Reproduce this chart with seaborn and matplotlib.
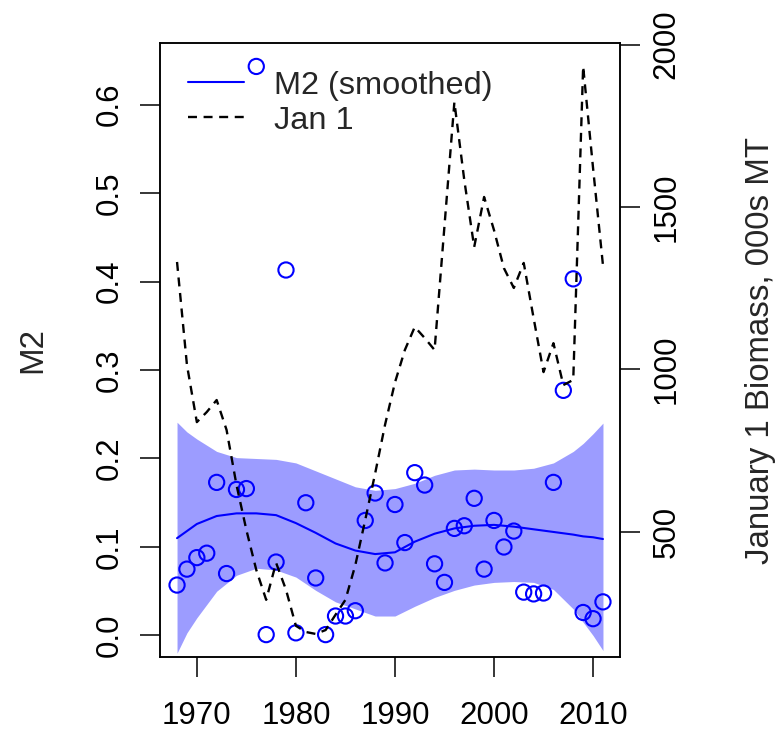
import numpy as np
import pandas as pd
import matplotlib
matplotlib.use("Agg")
import matplotlib.pyplot as plt
from matplotlib.lines import Line2D
import seaborn as sns

# ---------------- data ----------------
years = list(range(1968, 2012))
m2 = [0.057, 0.075, 0.088, 0.093, 0.173, 0.070, 0.165, 0.166, 0.643, 0.001,
      0.083, 0.413, 0.003, 0.150, 0.065, 0.001, 0.022, 0.022, 0.028, 0.130,
      0.161, 0.082, 0.148, 0.105, 0.184, 0.170, 0.081, 0.060, 0.121, 0.124,
      0.155, 0.075, 0.130, 0.100, 0.118, 0.049, 0.047, 0.048, 0.173, 0.277,
      0.403, 0.026, 0.019, 0.038]
biomass = [1331, 1014, 838, 869, 906, 814, 645, 506, 383, 291,
           405, 322, 211, 192, 186, 198, 245, 291, 398, 537,
           680, 830, 960, 1060, 1131, 1097, 1060, 1442, 1823, 1583,
           1377, 1531, 1429, 1312, 1251, 1328, 1158, 992, 1081, 952,
           968, 1933, 1620, 1321]

smooth_years = [1968, 1969, 1970, 1972, 1974, 1976, 1978, 1980, 1982, 1984, 1986,
                1988, 1990, 1992, 1994, 1996, 1998, 2000, 2002, 2004, 2006,
                2008, 2009, 2010, 2011]
smooth_fit = [0.110, 0.118, 0.126, 0.135, 0.138, 0.138, 0.136, 0.127, 0.116, 0.104, 0.096,
              0.092, 0.094, 0.106, 0.115, 0.121, 0.124, 0.125, 0.123, 0.120, 0.117,
              0.114, 0.112, 0.111, 0.109]
smooth_upper = [0.241, 0.230, 0.222, 0.208, 0.201, 0.200, 0.199, 0.195, 0.186, 0.177, 0.168,
                0.164, 0.166, 0.172, 0.181, 0.187, 0.188, 0.187, 0.187, 0.189, 0.195,
                0.208, 0.217, 0.228, 0.240]
smooth_lower = [-0.020, 0.003, 0.020, 0.050, 0.068, 0.076, 0.074, 0.066, 0.051, 0.038, 0.030,
                0.022, 0.022, 0.033, 0.043, 0.051, 0.057, 0.060, 0.061, 0.060, 0.052,
                0.030, 0.015, 0.000, -0.017]

left_ticks = [0.0, 0.1, 0.2, 0.3, 0.4, 0.5, 0.6]
right_ticks = [500, 1000, 1500, 2000]
x_ticks = [1970, 1980, 1990, 2000, 2010]

points = pd.DataFrame({"year": years, "M2": m2, "biomass": biomass})
smooth = pd.DataFrame({"year": smooth_years, "fit": smooth_fit,
                       "lo": smooth_lower, "hi": smooth_upper})

# ---------------- style ----------------
sns.set_theme(style="white")
plt.rcParams["font.family"] = ["Liberation Sans", "DejaVu Sans"]
FS = 22.5
FS_LAB = 23.8
FS_LEG = 23.4
BLUE = "#0000ff"

fig = plt.figure(figsize=(7.76, 7.32), dpi=100)
ax = fig.add_axes([160/776, 1-657/732, 460/776, 614/732])

ax.fill_between(smooth["year"], smooth["lo"], smooth["hi"],
                color="#9c9cff", linewidth=0, zorder=1)
sns.lineplot(data=smooth, x="year", y="fit", ax=ax, color=BLUE,
             linewidth=1.5, zorder=2)
sns.scatterplot(data=points, x="year", y="M2", ax=ax, marker="o", s=120,
                facecolors="none", edgecolor=BLUE, linewidth=1.5, zorder=3)

ax.set_xlim(1966.28, 2012.72)
ax.set_ylim(-0.0243, 0.6695)
ax.set_xticks(x_ticks)
ax.set_xticklabels([str(t) for t in x_ticks])
ax.set_yticks(left_ticks)
ax.set_yticklabels([f"{t:.1f}" for t in left_ticks])
ax.set_xlabel("")
ax.set_ylabel("M2", fontsize=FS_LAB, labelpad=33)
ax.tick_params(axis="x", length=14.5, width=1.1, pad=17, labelsize=FS,
               direction="out", bottom=True, colors="black")
ax.tick_params(axis="y", length=14.5, width=1.1, pad=11, labelsize=FS,
               direction="out", left=True, labelrotation=90, colors="black")
for lab in ax.get_yticklabels():
    lab.set_va("center")
for sp in ax.spines.values():
    sp.set_linewidth(1.1)
    sp.set_color("black")

ax2 = ax.twinx()
sns.lineplot(data=points, x="year", y="biomass", ax=ax2, color="black",
             linewidth=1.7, linestyle=(0, (3.8, 2.8)), zorder=4)
ax2.set_ylim(115, 2005)
ax2.set_yticks(right_ticks)
ax2.set_yticklabels([str(t) for t in right_ticks])
ax2.set_ylabel("January 1 Biomass, 000s MT", fontsize=FS_LAB, labelpad=46)
ax2.tick_params(axis="y", length=14.5, width=1.1, pad=8, labelsize=FS,
                direction="out", right=True, labelrotation=90, colors="black")
for lab in ax2.get_yticklabels():
    lab.set_va("center")
for sp in ax2.spines.values():
    sp.set_linewidth(1.1)
    sp.set_color("black")

handles = [Line2D([], [], color=BLUE, linewidth=1.5),
           Line2D([], [], color="black", linewidth=1.7, linestyle=(0, (3.8, 2.8)))]
leg = ax2.legend(handles, ["M2 (smoothed)", "Jan 1"], loc="upper left",
                 bbox_to_anchor=(0.06, 0.955), frameon=False, fontsize=FS_LEG,
                 handlelength=1.75, handletextpad=0.9, labelspacing=0.15,
                 borderpad=0, borderaxespad=0)

fig.savefig("out.png", dpi=100)
